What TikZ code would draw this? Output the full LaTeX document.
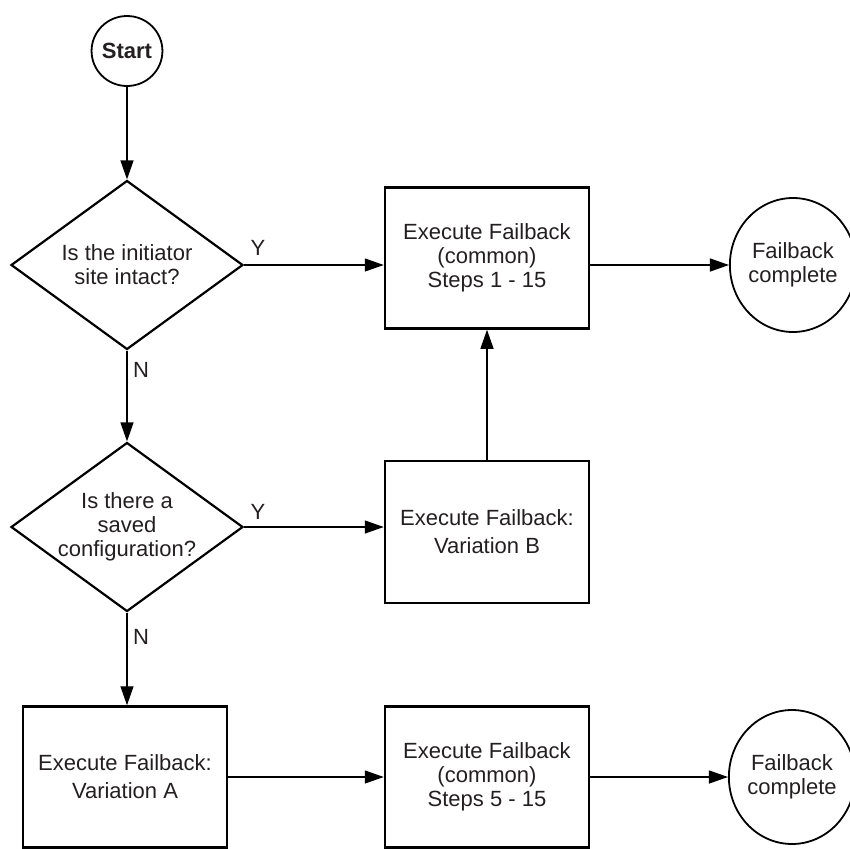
\documentclass[tikz,border=0pt]{standalone}
\usepackage{fontspec}
\setmainfont{Liberation Sans}
\usetikzlibrary{shapes.geometric,arrows.meta}
\definecolor{ink}{HTML}{231f20}

\begin{document}
\begin{tikzpicture}[
    x=1pt, y=-1pt,
    font=\fontsize{22}{24}\selectfont,
    process/.style={
        draw, line width=2.5pt, minimum width=204pt, minimum height=141pt,
        align=center, inner sep=0pt, text=ink,
    },
    decision/.style={
        draw, diamond, line width=2.2pt, minimum width=232pt, minimum height=169pt,
        inner sep=0pt,
    },
    terminal/.style={
        draw, ellipse, line width=1.8pt, minimum width=110pt, minimum height=134pt,
        align=center, inner sep=0pt, text=ink,
    },
    link/.style={ -{Triangle[length=19pt,width=13pt]}, line width=1.3pt, },
    tag/.style={ inner sep=0pt, text=ink, },
]
\useasboundingbox (0,0) rectangle (849,849);

\node[terminal, minimum width=66pt, minimum height=70pt, font=\fontsize{22}{24}\selectfont\bfseries] (start) at (127,51) {Start};

\node[decision, label={[align=center, text=ink]center:{Is the initiator\\site intact?}}] (intact) at (127,265) {};
\node[decision, label={[align=center, text=ink]center:{Is there a\\saved\\configuration?}}] (saved) at (127,527) {};

\node[process] (common1) at (487,258) {Execute Failback\\(common)\\Steps 1 - 15};
\node[process, font=\fontsize{22}{28}\selectfont, minimum height=142pt] (varB) at (487,532) {Execute Failback:\\Variation B};
\node[process, font=\fontsize{22}{28}\selectfont] (varA) at (125,777) {Execute Failback:\\Variation A};
\node[process] (common5) at (487,777) {Execute Failback\\(common)\\Steps 5 - 15};

\node[terminal] (done1) at (793,265) {Failback\\complete};
\node[terminal] (done5) at (792,777) {Failback\\complete};

\node[tag] (yes1) at (258,248) {Y};
\node[tag] (no1) at (141,370) {N};
\node[tag] (yes2) at (258,512) {Y};
\node[tag] (no2) at (141,637) {N};

\draw[link] (start) -- (intact);
\draw[link] (intact.east) -- (intact.east -| common1.west);
\draw[link] (common1.east |- done1.west) -- (done1.west);
\draw[link] (intact) -- (saved);
\draw[link] (saved.east) -- (saved.east -| varB.west);
\draw[link] (varB) -- (common1);
\draw[link] (saved.south) -- (saved.south |- varA.north);
\draw[link] (varA) -- (common5);
\draw[link] (common5) -- (done5);
\end{tikzpicture}
\end{document}
